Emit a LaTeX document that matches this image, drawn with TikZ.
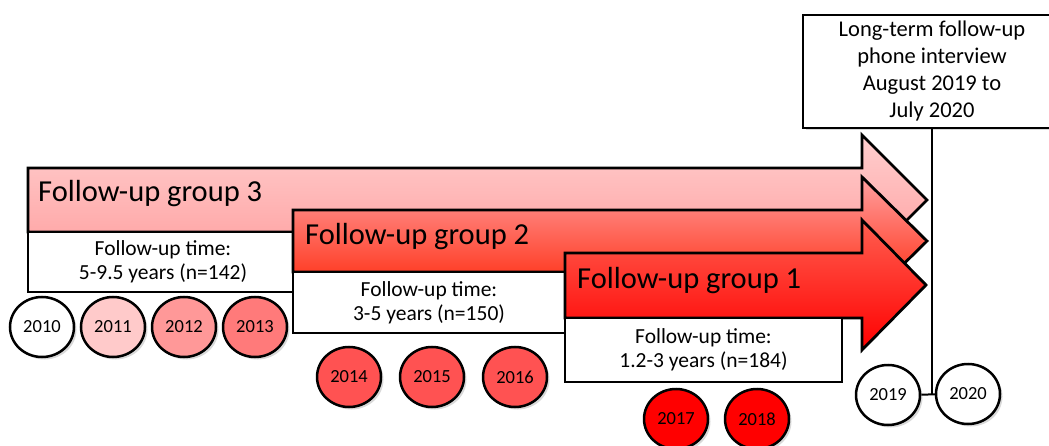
\documentclass[tikz,border=0pt]{standalone}
\usepackage{fontspec}
\setmainfont{Carlito}
\usetikzlibrary{shapes.geometric,shadows}
\definecolor{a3top}{RGB}{255,206,206}
\definecolor{a3bot}{RGB}{255,158,158}
\definecolor{a2top}{RGB}{255,160,160}
\definecolor{a2bot}{RGB}{255,30,0}
\definecolor{a1top}{RGB}{255,95,80}
\definecolor{a1bot}{RGB}{255,0,0}
\definecolor{c2011}{RGB}{255,202,202}
\definecolor{c2012}{RGB}{255,152,152}
\definecolor{c2013}{RGB}{255,122,122}
\definecolor{c2014}{RGB}{255,82,82}
\definecolor{c2017}{RGB}{255,0,0}
\tikzset{
  arrowshape/.style={draw=black, line width=2.8pt, line join=miter},
  grp/.style={anchor=base west, inner sep=0pt, font=\fontsize{30.5}{34}\selectfont},
  infobox/.style={draw=black, fill=white, line width=2.8pt, inner sep=0pt, align=center, font=\fontsize{21.5}{24}\selectfont},
  yr/.style={ellipse, draw=black, line width=2.5pt, minimum width=64pt, minimum height=60pt, inner sep=0pt,
    font=\fontsize{18.5}{20}\selectfont, drop shadow={shadow xshift=2.5pt, shadow yshift=-2.5pt, opacity=0.3}},
  link/.style={draw=black, line width=2pt}
}
\begin{document}
\begin{tikzpicture}[x=1pt,y=-1pt]
\useasboundingbox (0,0) rectangle (1049,446);
\clip (0,0) rectangle (1049,446);

% group 3
\path[arrowshape, top color=a3top, bottom color=a3bot]
  (28,168) -- (862,168) -- (862,135) -- (927,200) -- (862,265) -- (862,232) -- (28,232) -- cycle;
\node[grp] (g3) at (38,202) {Follow-up group 3};
\node[infobox, minimum width=270pt, minimum height=60pt] (b3) at (163,262)
  {Follow-up time:\\5-9.5 years (n=142)};

% group 2
\path[arrowshape, top color=a2top, bottom color=a2bot]
  (293,210) -- (862,210) -- (862,177) -- (927,241) -- (862,305) -- (862,272) -- (293,272) -- cycle;
\node[grp] (g2) at (305,245) {Follow-up group 2};
\node[infobox, minimum width=272pt, minimum height=61pt] (b2) at (429,302.5)
  {Follow-up time:\\3-5 years (n=150)};

% group 1
\path[arrowshape, top color=a1top, bottom color=a1bot]
  (565,253) -- (862,253) -- (862,220) -- (926,285) -- (862,350) -- (862,318) -- (565,318) -- cycle;
\node[grp] (g1) at (577,288) {Follow-up group 1};
\node[infobox, minimum width=277pt, minimum height=64pt] (b1) at (703.5,350)
  {Follow-up time:\\1.2-3 years (n=184)};

% years
\node[yr, fill=white] (y2010) at (42,327) {2010};
\node[yr, fill=c2011] (y2011) at (113,327) {2011};
\node[yr, fill=c2012] (y2012) at (184,327) {2012};
\node[yr, fill=c2013] (y2013) at (255,327) {2013};
\node[yr, fill=c2014] (y2014) at (349,377) {2014};
\node[yr, fill=c2014] (y2015) at (432,377) {2015};
\node[yr, fill=c2014] (y2016) at (515,377) {2016};
\node[yr, fill=c2017] (y2017) at (676,419) {2017};
\node[yr, fill=c2017] (y2018) at (757,419) {2018};
\node[yr, fill=white] (y2019) at (888,395) {2019};
\node[yr, fill=white] (y2020) at (968,394) {2020};

% long-term box
\node[infobox, minimum width=258pt, minimum height=113pt, font=\fontsize{22.5}{27}\selectfont,
  drop shadow={shadow xshift=2.5pt, shadow yshift=-2.5pt, opacity=0.3}] (lt) at (932,71.5)
  {Long-term follow-up\\phone interview\\August 2019 to\\July 2020};
\coordinate (j) at (lt.south |- y2019.east);
\draw[link] (lt.south) -- (j);
\draw[link] (y2019) -- (y2020);
\end{tikzpicture}
\end{document}
